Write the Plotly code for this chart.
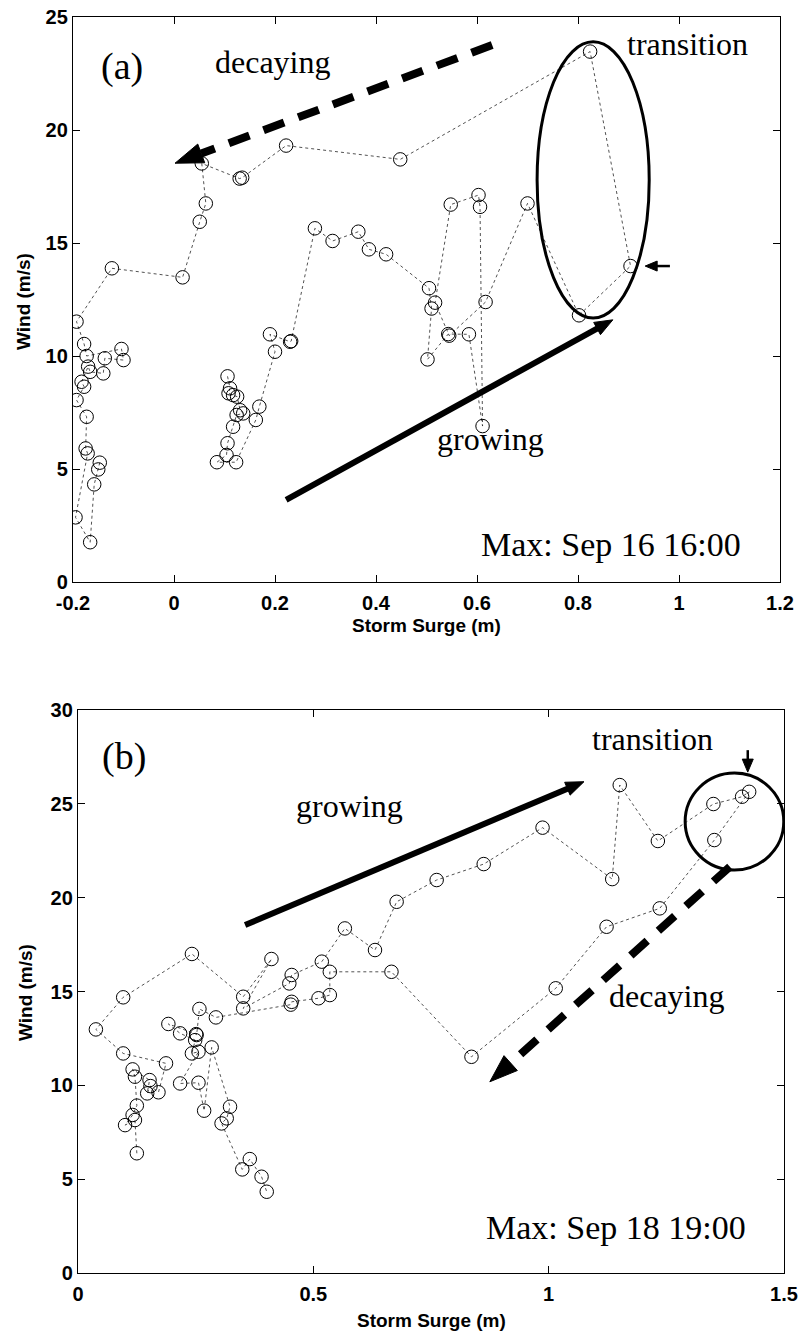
import math
import plotly.graph_objects as go

# ---------------- data ----------------
# Panel (a): storm surge (m) vs wind (m/s), time-ordered trajectory
surge_a = [0.106, 0.111, 0.108, 0.117, 0.125, 0.131, 0.137, 0.124, 0.117, 0.106,
           0.104, 0.085, 0.123, 0.162, 0.169, 0.200, 0.190, 0.230, 0.232, 0.279,
           0.314, 0.365, 0.386, 0.420, 0.505, 0.510, 0.502, 0.543, 0.584, 0.611,
           0.606, 0.603, 0.548, 0.517, 0.545, 0.617, 0.700, 0.802, 0.904, 0.824,
           0.448, 0.222, 0.135, 0.130, 0.055, 0.063, 0.051, 0.017, -0.123, -0.193,
           -0.178, -0.173, -0.104, -0.100, -0.137, -0.140, -0.166, -0.170, -0.183, -0.178,
           -0.193, -0.173, -0.175, -0.171, -0.195, -0.166, -0.158, -0.150, -0.147]
wind_a = [9.10, 8.57, 8.35, 8.27, 8.20, 7.60, 7.46, 7.39, 6.87, 6.14,
          5.62, 5.30, 5.30, 7.17, 7.76, 10.19, 10.96, 10.63, 10.66, 15.65,
          15.09, 15.50, 14.72, 14.50, 13.00, 12.10, 9.85, 10.97, 10.96, 6.90,
          16.60, 17.12, 16.70, 12.36, 10.90, 12.39, 16.75, 11.80, 13.98, 23.47,
          18.70, 19.31, 17.89, 17.85, 18.52, 16.75, 15.94, 13.48, 13.88, 11.52,
          10.53, 10.00, 10.31, 9.82, 9.90, 9.23, 9.30, 9.53, 8.86, 8.64,
          8.05, 7.31, 5.91, 5.69, 2.86, 1.76, 4.32, 4.98, 5.28]

# Panel (b)
surge_b = [0.125, 0.121, 0.100, 0.116, 0.125, 0.121, 0.116, 0.152, 0.147, 0.154,
           0.171, 0.187, 0.096, 0.038, 0.096, 0.242, 0.351, 0.411, 0.351, 0.449,
           0.454, 0.518, 0.567, 0.631, 0.677, 0.762, 0.862, 0.987, 1.135, 1.151,
           1.232, 1.350, 1.411, 1.426, 1.352, 1.236, 1.123, 1.015, 0.836, 0.666,
           0.535, 0.535, 0.511, 0.454, 0.452, 0.293, 0.258, 0.252, 0.251, 0.192,
           0.217, 0.249, 0.242, 0.256, 0.217, 0.256, 0.268, 0.284, 0.323, 0.316,
           0.305, 0.349, 0.365, 0.390, 0.401]
wind_b = [6.38, 8.15, 7.88, 8.42, 8.92, 10.46, 10.85, 10.28, 9.57, 9.96,
          9.63, 11.17, 11.70, 12.98, 14.69, 17.00, 14.72, 16.73, 14.10, 15.43,
          15.88, 16.59, 18.36, 17.21, 19.78, 20.94, 21.79, 23.73, 20.99, 26.00,
          23.02, 24.99, 25.38, 25.64, 23.07, 19.43, 18.45, 15.17, 11.52, 16.05,
          16.05, 14.81, 14.64, 14.45, 14.30, 13.62, 14.07, 12.68, 12.73, 13.27,
          12.77, 12.41, 11.70, 11.79, 10.10, 10.14, 8.65, 12.02, 8.86, 8.24,
          7.97, 5.52, 6.07, 5.13, 4.33]

xticks_a = [-0.2, 0, 0.2, 0.4, 0.6, 0.8, 1, 1.2]
xticktext_a = ["-0.2", "0", "0.2", "0.4", "0.6", "0.8", "1", "1.2"]
yticks_a = [0, 5, 10, 15, 20, 25]
xticks_b = [0, 0.5, 1, 1.5]
xticktext_b = ["0", "0.5", "1", "1.5"]
yticks_b = [0, 5, 10, 15, 20, 25, 30]

# ---------------- layout geometry ----------------
W, H = 802, 1335
A_X = (73, 780); A_Y = (17, 582)      # pixel box of panel (a)
B_X = (78, 784); B_Y = (710, 1273)    # pixel box of panel (b)
rng_ax, rng_ay = (-0.2, 1.2), (0, 25)
rng_bx, rng_by = (0, 1.5), (0, 30)
sx_a = (A_X[1] - A_X[0]) / (rng_ax[1] - rng_ax[0]); sy_a = (A_Y[1] - A_Y[0]) / (rng_ay[1] - rng_ay[0])
sx_b = (B_X[1] - B_X[0]) / (rng_bx[1] - rng_bx[0]); sy_b = (B_Y[1] - B_Y[0]) / (rng_by[1] - rng_by[0])

fig = go.Figure()
line_style = dict(color="#262626", width=0.8, dash="3px,3px")
marker_style = dict(symbol="circle-open", size=13.5, color="black", line=dict(width=1, color="black"))
fig.add_trace(go.Scatter(x=surge_a, y=wind_a, mode="lines+markers", line=line_style,
                         marker=marker_style, xaxis="x", yaxis="y", showlegend=False))
fig.add_trace(go.Scatter(x=surge_b, y=wind_b, mode="lines+markers", line=line_style,
                         marker=marker_style, xaxis="x2", yaxis="y2", showlegend=False))

tickfont = dict(family="Liberation Sans", size=20, color="black", weight="bold")
axis_common = dict(showline=True, linecolor="black", linewidth=1.3, mirror="ticks",
                   ticks="inside", ticklen=7, tickwidth=1.2, tickcolor="black",
                   showgrid=False, zeroline=False, tickfont=tickfont, fixedrange=True,
                   automargin=False)

fig.update_layout(
    width=W, height=H, margin=dict(l=0, r=0, t=0, b=0, autoexpand=False),
    paper_bgcolor="white", plot_bgcolor="white",
    xaxis=dict(domain=[A_X[0] / W, A_X[1] / W], range=list(rng_ax), tickvals=xticks_a,
               ticktext=xticktext_a, anchor="y", ticklabelstandoff=3, **axis_common),
    yaxis=dict(domain=[1 - A_Y[1] / H, 1 - A_Y[0] / H], range=list(rng_ay), tickvals=yticks_a,
               anchor="x", **axis_common),
    xaxis2=dict(domain=[B_X[0] / W, B_X[1] / W], range=list(rng_bx), tickvals=xticks_b,
                ticktext=xticktext_b, anchor="y2", ticklabelstandoff=3, **axis_common),
    yaxis2=dict(domain=[1 - B_Y[1] / H, 1 - B_Y[0] / H], range=list(rng_by), tickvals=yticks_b,
                anchor="x2", **axis_common),
)

shapes = []
annotations = []


def arrow(tail, tip, sx, sy, xr, yr, width, head_len, head_w, dash=None):
    dx = (tip[0] - tail[0]) * sx
    dy = (tip[1] - tail[1]) * sy
    L = math.hypot(dx, dy)
    ux, uy = dx / L, dy / L
    px, py = -uy, ux
    bx = tip[0] - ux * head_len / sx
    by = tip[1] - uy * head_len / sy
    ex = tip[0] - ux * (head_len - 2) / sx
    ey = tip[1] - uy * (head_len - 2) / sy
    ln = dict(color="black", width=width)
    if dash:
        ln["dash"] = dash
        ex, ey = bx, by
    shapes.append(dict(type="line", xref=xr, yref=yr, x0=tail[0], y0=tail[1], x1=ex, y1=ey, line=ln))
    c1 = (bx + px * head_w / 2 / sx, by + py * head_w / 2 / sy)
    c2 = (bx - px * head_w / 2 / sx, by - py * head_w / 2 / sy)
    path = f"M{tip[0]},{tip[1]} L{c1[0]},{c1[1]} L{c2[0]},{c2[1]} Z"
    shapes.append(dict(type="path", xref=xr, yref=yr, path=path, fillcolor="black",
                       line=dict(color="black", width=1)))


# panel (a) decorations
arrow((0.630, 23.76), (0.002, 18.53), sx_a, sy_a, "x", "y", 8, 28, 20, dash="22px,15px")
arrow((0.222, 3.63), (0.869, 11.60), sx_a, sy_a, "x", "y", 6, 18, 14)
arrow((0.982, 13.98), (0.933, 13.98), sx_a, sy_a, "x", "y", 2.5, 12, 10)
shapes.append(dict(type="circle", xref="x", yref="y", x0=0.719, x1=0.941, y0=11.68, y1=23.9,
                   line=dict(color="black", width=3)))
# panel (b) decorations
arrow((0.355, 18.54), (1.075, 26.18), sx_b, sy_b, "x2", "y2", 6, 18, 14)
arrow((1.385, 21.65), (0.875, 10.19), sx_b, sy_b, "x2", "y2", 8, 28, 20, dash="22px,15px")
arrow((1.423, 27.86), (1.423, 26.69), sx_b, sy_b, "x2", "y2", 2.5, 13, 11)
shapes.append(dict(type="circle", xref="x2", yref="y2", x0=1.290, x1=1.4995, y0=21.47, y1=26.64,
                   line=dict(color="black", width=3)))

serif = "Liberation Serif"


def label(text, x, y, xr, yr, size=32, xanchor="center"):
    annotations.append(dict(text=text, x=x, y=y, xref=xr, yref=yr, showarrow=False,
                            xanchor=xanchor, yanchor="middle",
                            font=dict(family=serif, size=size, color="black")))


label("(a)", -0.103, 22.83, "x", "y", size=38)
label("decaying", 0.196, 23.0, "x", "y")
label("transition", 1.016, 23.8, "x", "y")
label("growing", 0.626, 6.33, "x", "y")
label("Max: Sep 16 16:00", 1.127, 1.68, "x", "y", size=34, xanchor="right")

label("(b)", 0.098, 27.54, "x2", "y2", size=38)
label("growing", 0.576, 24.88, "x2", "y2")
label("transition", 1.2216, 28.45, "x2", "y2")
label("decaying", 1.251, 14.76, "x2", "y2")
label("Max: Sep 18 19:00", 1.4234, 2.45, "x2", "y2", size=34, xanchor="right")

# axis titles
title_font = dict(family="Liberation Sans", size=19, color="black", weight="bold")
for txt, px, py, ang in [("Storm Surge (m)", 426, 625, 0), ("Wind (m/s)", 23, 302, -90),
                         ("Storm Surge (m)", 431, 1320, 0), ("Wind (m/s)", 25, 993, -90)]:
    annotations.append(dict(text=txt, x=px / W, y=1 - py / H, xref="paper", yref="paper",
                            showarrow=False, xanchor="center", yanchor="middle",
                            textangle=ang, font=title_font))

fig.update_layout(shapes=shapes, annotations=annotations)
fig.write_html("out.html")
